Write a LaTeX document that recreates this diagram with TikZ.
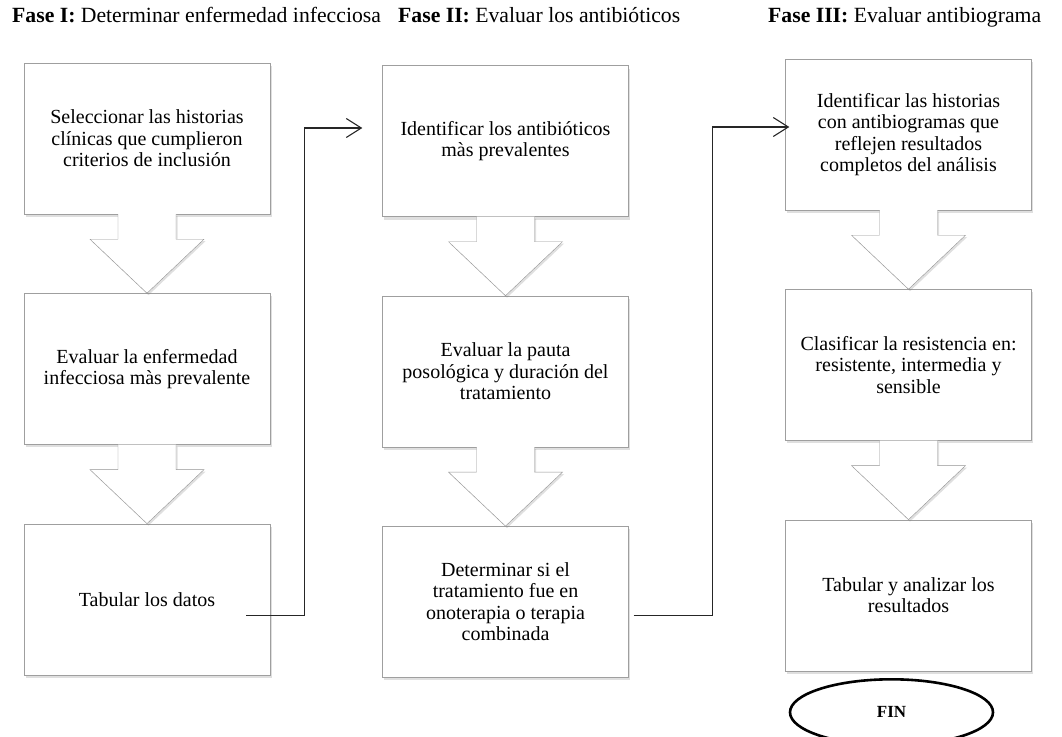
\documentclass[tikz,border=0pt]{standalone}
\usepackage{fontspec}
\setmainfont{Liberation Serif}
\usetikzlibrary{calc,arrows.meta,positioning,shapes.geometric,shadows}
\tikzset{
  stepbox/.style={draw=gray!75, fill=white, align=center, minimum width=246pt,
    minimum height=151pt, inner sep=4pt, font=\fontsize{20}{21.5}\selectfont,
    drop shadow={opacity=0.25, shadow xshift=1.5pt, shadow yshift=-3pt}},
  bigarrow/.style={draw=gray!85, fill=white,
    drop shadow={opacity=0.25, shadow xshift=1.5pt, shadow yshift=-2pt}},
  link/.style={draw=black!85, line width=1.1pt, -{Straight Barb[length=15pt,width=19pt]}},
  phase/.style={anchor=base west, inner sep=0pt, font=\fontsize{21.7}{24}\selectfont},
  finnode/.style={ellipse, draw=black, line width=2.6pt, minimum width=203pt,
    minimum height=66pt, font=\fontsize{17}{19}\selectfont\bfseries}
}

\begin{document}
\begin{tikzpicture}[x=1pt, y=-1pt, node distance=79pt]
  \useasboundingbox (0,0) rectangle (1062,736);

  % phase titles
  \node[phase] (h1) at (12,23) {\textbf{Fase I:} Determinar enfermedad infecciosa};
  \node[phase] (h2) at (398,23) {\textbf{Fase II:} Evaluar los antibióticos};
  \node[phase] (h3) at (768,23) {\textbf{Fase III:} Evaluar antibiograma};

  % phase I
  \node[stepbox] (t1a) at (147,138.5)
    {Seleccionar las historias\\clínicas que cumplieron\\criterios de inclusión};
  \node[stepbox, below=of t1a] (t1b)
    {Evaluar la enfermedad\\infecciosa màs prevalente};
  \node[stepbox, below=of t1b] (t1c) {Tabular los datos};

  % phase II
  \node[stepbox] (t2a) at (505.5,141)
    {Identificar los antibióticos\\màs prevalentes};
  \node[stepbox, below=of t2a] (t2b)
    {Evaluar la pauta\\posológica y duración del\\tratamiento};
  \node[stepbox, below=of t2b] (t2c)
    {Determinar si el\\tratamiento fue en\\onoterapia o terapia\\combinada};

  % phase III
  \node[stepbox] (t3a) at (908.5,134.5)
    {Identificar las historias\\con antibiogramas que\\reflejen resultados\\completos del análisis};
  \node[stepbox, below=of t3a] (t3b)
    {Clasificar la resistencia en:\\resistente, intermedia y\\sensible};
  \node[stepbox, below=of t3b] (t3c)
    {Tabular y analizar los\\resultados};

  \node[finnode, below=7pt of t3c, xshift=-17pt] (fin) {FIN};

  % block arrows inside each phase
  \foreach \a/\b in {t1a/t1b, t1b/t1c, t2a/t2b, t2b/t2c, t3a/t3b, t3b/t3c}
    \filldraw[bigarrow] ($(\a.south)+(-29,0)$) -- ($(\a.south)+(-29,25)$)
      -- ($(\a.south)+(-57,25)$) -- (\b.north) -- ($(\a.south)+(57,25)$)
      -- ($(\a.south)+(29,25)$) -- ($(\a.south)+(29,0)$);

  % links between phases
  \draw[link] ($(t1c.east)+(-24,16)$) -- ++(58,0) |- ($(t2a.west)+(-20,-13)$);
  \draw[link] ($(t2c.east)+(5,14)$) -- ++(79,0) |- ($(t3a.west)+(4,-7.5)$);
\end{tikzpicture}
\end{document}
